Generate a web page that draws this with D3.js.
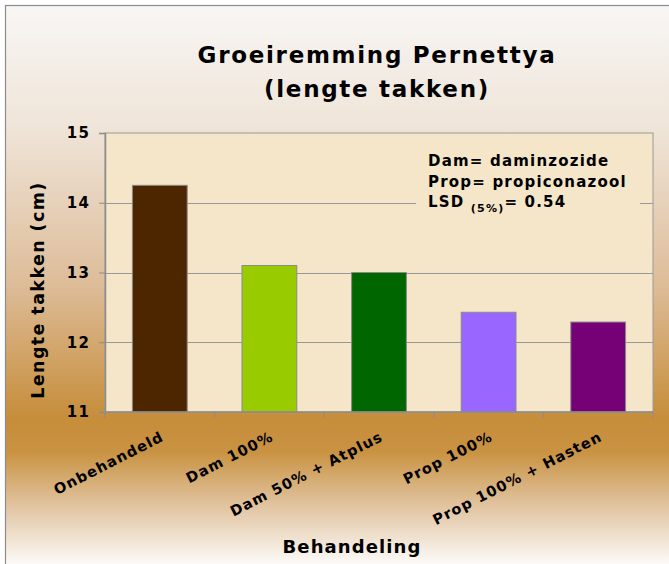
<!DOCTYPE html>
<html><head><meta charset="utf-8">
<script src="https://cdn.jsdelivr.net/npm/d3@7/dist/d3.min.js"></script>
<style>html,body{margin:0;padding:0;background:#fff;}svg{display:block;}</style>
</head><body>
<script>
const categories = ["Onbehandeld", "Dam 100%", "Dam 50% + Atplus", "Prop 100%", "Prop 100% + Hasten"];
const values = [14.25, 13.1, 13.0, 12.43, 12.29];
const barColors = ["#4d2600", "#99cc00", "#006600", "#9966ff", "#760076"];
const yTicks = [11, 12, 13, 14, 15];
const titleLines = ["Groeiremming Pernettya", "(lengte takken)"];
const noteLines = ["Dam= daminzozide", "Prop= propiconazool"];
const lsdValue = "0.54";

const W = 669, H = 564;
const plot = {left: 105, right: 653, top: 133, bottom: 412};
const svg = d3.select("body").append("svg").attr("width", W).attr("height", H);

const defs = svg.append("defs");
const grad = defs.append("linearGradient").attr("id", "bg")
  .attr("gradientUnits", "userSpaceOnUse").attr("x1", 0).attr("y1", 6).attr("x2", 0).attr("y2", 564);
[[0, "#f8f6f4"], [0.22, "#efe4d8"], [0.5, "#ddbc98"], [0.74, "#c68d3a"], [0.8, "#c99343"], [0.9, "#e2c6a4"], [1, "#fcfaf8"]]
  .forEach(([o, c]) => grad.append("stop").attr("offset", o).attr("stop-color", c));

svg.append("rect").attr("x", 5.5).attr("y", 5.5).attr("width", 700).attr("height", 600)
  .attr("fill", "url(#bg)").attr("stroke", "#8c8c8c").attr("stroke-width", 1.2);

const x = d3.scaleBand().domain(categories).range([plot.left, plot.right]).paddingInner(0.5).paddingOuter(0.25);
const y = d3.scaleLinear().domain([11, 15]).range([plot.bottom, plot.top]);

// plot area
svg.append("rect").attr("x", plot.left).attr("y", plot.top)
  .attr("width", plot.right - plot.left).attr("height", plot.bottom - plot.top)
  .attr("fill", "#f5e6c9").attr("stroke", "#9a9a9a").attr("stroke-width", 1);

// gridlines
svg.append("g").selectAll("line").data(yTicks.filter(t => t > 11 && t < 15)).join("line")
  .attr("x1", plot.left).attr("x2", plot.right)
  .attr("y1", d => Math.round(y(d)) + 0.5).attr("y2", d => Math.round(y(d)) + 0.5)
  .attr("stroke", "#989898").attr("stroke-width", 1);

const font = "'DejaVu Sans', Verdana, sans-serif";

// note box (covers gridline)
const note = svg.append("g");
note.append("rect").attr("x", 416).attr("y", 146).attr("width", 224).attr("height", 68).attr("fill", "#f5e6c9");
noteLines.forEach((t, i) => {
  note.append("text").attr("x", 428).attr("y", 166 + i * 20.5)
    .attr("font-family", font).attr("font-weight", "bold").attr("font-size", 15)
    .attr("letter-spacing", 1.2).attr("fill", "#000").text(t);
});
const lsd = note.append("text").attr("x", 428).attr("y", 207)
  .attr("font-family", font).attr("font-weight", "bold").attr("font-size", 15)
  .attr("letter-spacing", 1.2).attr("fill", "#000");
lsd.append("tspan").text("LSD ");
lsd.append("tspan").attr("font-size", 11).attr("dy", 5).text("(5%)");
lsd.append("tspan").attr("dy", -5).text("= " + lsdValue);

// bars
svg.append("g").selectAll("rect").data(categories).join("rect")
  .attr("x", d => x(d)).attr("width", x.bandwidth())
  .attr("y", (d, i) => y(values[i])).attr("height", (d, i) => y(11) - y(values[i]))
  .attr("fill", (d, i) => barColors[i]).attr("stroke", "#8a8a8a").attr("stroke-width", 1);

// y axis
const yAxis = svg.append("g").attr("transform", `translate(${plot.left},0)`)
  .call(d3.axisLeft(y).tickValues(yTicks).tickSize(6).tickPadding(8.5).tickFormat(d3.format("d")));
yAxis.select(".domain").attr("stroke", "#8c8c8c").attr("stroke-width", 1.5);
yAxis.selectAll(".tick line").attr("stroke", "#8c8c8c");
yAxis.selectAll(".tick text").attr("font-family", font).attr("font-weight", "bold")
  .attr("font-size", 15).attr("letter-spacing", 1.5).attr("fill", "#000");

// x axis
const xAxisG = svg.append("g").attr("transform", `translate(0,${plot.bottom})`);
xAxisG.append("line").attr("x1", plot.left).attr("x2", plot.right).attr("y1", 0).attr("y2", 0)
  .attr("stroke", "#8c8c8c").attr("stroke-width", 1.5);
const bounds = d3.range(categories.length + 1).map(i => plot.left + i * (plot.right - plot.left) / categories.length);
xAxisG.selectAll("line.tk").data(bounds).join("line").attr("class", "tk")
  .attr("x1", d => d).attr("x2", d => d).attr("y1", 0).attr("y2", 6)
  .attr("stroke", "#8c8c8c");
xAxisG.selectAll("text").data(categories).join("text")
  .attr("transform", d => `translate(${x(d) + x.bandwidth() / 2 + 5},${28}) rotate(-27)`)
  .attr("text-anchor", "end")
  .attr("font-family", font).attr("font-weight", "bold").attr("font-size", 14.5)
  .attr("letter-spacing", 1.1).attr("fill", "#000").text(d => d);

// titles
svg.append("text").attr("x", 377).attr("y", 63).attr("text-anchor", "middle")
  .attr("font-family", font).attr("font-weight", "bold").attr("font-size", 23)
  .attr("letter-spacing", 1.7).attr("fill", "#000").text(titleLines[0]);
svg.append("text").attr("x", 377).attr("y", 97).attr("text-anchor", "middle")
  .attr("font-family", font).attr("font-weight", "bold").attr("font-size", 23)
  .attr("letter-spacing", 1.7).attr("fill", "#000").text(titleLines[1]);

svg.append("text").attr("transform", "translate(44,290) rotate(-90)").attr("text-anchor", "middle")
  .attr("font-family", font).attr("font-weight", "bold").attr("font-size", 17.5)
  .attr("letter-spacing", 1.4).attr("fill", "#000").text("Lengte takken (cm)");

svg.append("text").attr("x", 352).attr("y", 553).attr("text-anchor", "middle")
  .attr("font-family", font).attr("font-weight", "bold").attr("font-size", 18)
  .attr("letter-spacing", 1.1).attr("fill", "#000").text("Behandeling");
</script>
</body></html>
